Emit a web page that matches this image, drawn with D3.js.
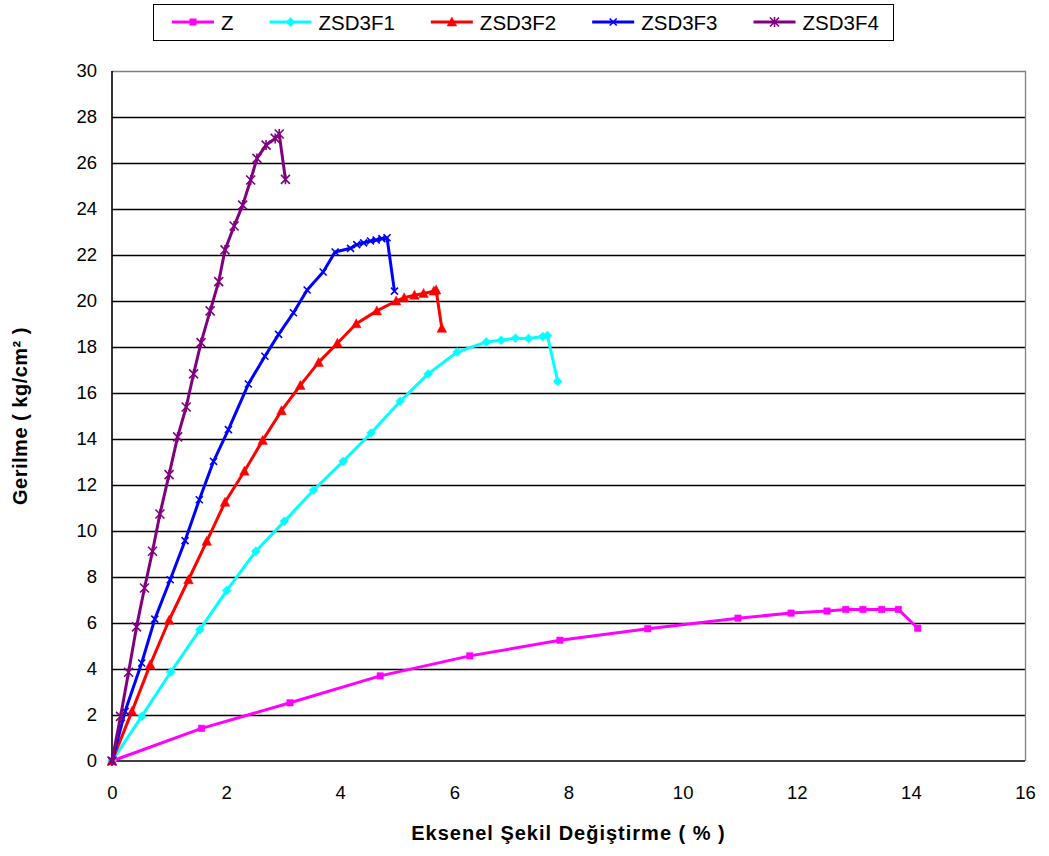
<!DOCTYPE html>
<html>
<head>
<meta charset="utf-8">
<script src="https://cdn.jsdelivr.net/npm/d3@7"></script>
<style>
  html, body { margin: 0; padding: 0; background: #fff; }
  svg { display: block; font-family: "Liberation Sans", Arial, sans-serif; }
</style>
</head>
<body>
<svg id="chart" width="1049" height="856"></svg>
<script>
// Stress–strain curves (strain %, stress kg/cm²)
const seriesNames = ["Z", "ZSD3F1", "ZSD3F2", "ZSD3F3", "ZSD3F4"];
const seriesColors = ["#FF00FF", "#00FFFF", "#FF0000", "#0000FF", "#800080"];
const seriesMarkers = ["square", "diamond", "triangle", "cross", "star"];

const zX = [0, 1.57, 3.12, 4.70, 6.27, 7.85, 9.39, 10.97, 11.90, 12.53, 12.86, 13.16, 13.49, 13.78, 14.12];
const zY = [0, 1.42, 2.53, 3.70, 4.57, 5.25, 5.75, 6.21, 6.43, 6.52, 6.59, 6.59, 6.59, 6.59, 5.77];

const f1X = [0, 0.52, 1.03, 1.54, 2.01, 2.52, 3.02, 3.53, 4.05, 4.54, 5.05, 5.54, 6.05, 6.56, 6.82, 7.07, 7.30, 7.55, 7.63, 7.81];
const f1Y = [0, 1.94, 3.87, 5.71, 7.41, 9.12, 10.42, 11.77, 13.03, 14.26, 15.64, 16.83, 17.78, 18.22, 18.29, 18.38, 18.37, 18.46, 18.50, 16.51];

const f2X = [0, 0.35, 0.67, 1.00, 1.34, 1.66, 1.98, 2.32, 2.64, 2.97, 3.30, 3.62, 3.95, 4.28, 4.64, 4.98, 5.12, 5.30, 5.46, 5.64, 5.68, 5.78];
const f2Y = [0, 2.16, 4.19, 6.12, 7.88, 9.55, 11.25, 12.60, 13.94, 15.23, 16.33, 17.33, 18.16, 19.01, 19.57, 20.00, 20.14, 20.25, 20.33, 20.43, 20.48, 18.81];

const f3X = [0, 0.23, 0.52, 0.75, 1.02, 1.28, 1.53, 1.78, 2.04, 2.39, 2.68, 2.92, 3.18, 3.42, 3.70, 3.91, 4.18, 4.29, 4.41, 4.53, 4.63, 4.73, 4.82, 4.95];
const f3Y = [0, 2.16, 4.26, 6.17, 7.88, 9.58, 11.36, 13.03, 14.41, 16.39, 17.60, 18.55, 19.49, 20.48, 21.26, 22.13, 22.29, 22.45, 22.53, 22.61, 22.65, 22.71, 22.75, 20.43];

const f4X = [0, 0.15, 0.29, 0.43, 0.57, 0.71, 0.84, 1.00, 1.15, 1.30, 1.43, 1.56, 1.72, 1.87, 1.98, 2.14, 2.29, 2.43, 2.54, 2.70, 2.86, 2.93, 3.04];
const f4Y = [0, 1.94, 3.86, 5.83, 7.52, 9.12, 10.74, 12.45, 14.09, 15.39, 16.83, 18.19, 19.57, 20.84, 22.22, 23.26, 24.17, 25.26, 26.20, 26.78, 27.07, 27.26, 25.29];

const xTicks = [0, 2, 4, 6, 8, 10, 12, 14, 16];
const yTicks = [0, 2, 4, 6, 8, 10, 12, 14, 16, 18, 20, 22, 24, 26, 28, 30];

const xTitle = "Eksenel Şekil Değiştirme ( % )";
const yTitle = "Gerilme ( kg/cm² )";

const allSeries = [[zX, zY], [f1X, f1Y], [f2X, f2Y], [f3X, f3Y], [f4X, f4Y]].map((p, i) => ({
  name: seriesNames[i],
  color: seriesColors[i],
  marker: seriesMarkers[i],
  points: p[0].map((x, j) => ({ x, y: p[1][j] }))
}));

const svg = d3.select("#chart");
const plot = { left: 112, right: 1025, top: 71, bottom: 761 };

const x = d3.scaleLinear().domain([0, 16]).range([plot.left, plot.right]);
const y = d3.scaleLinear().domain([0, 30]).range([plot.bottom, plot.top]);

// Horizontal gridlines
svg.append("g")
  .attr("transform", `translate(${plot.left},0)`)
  .call(d3.axisLeft(y).tickValues(yTicks.filter(v => v > 0 && v < 30))
    .tickSize(-(plot.right - plot.left)).tickFormat(""))
  .call(g => g.select(".domain").remove())
  .call(g => g.selectAll("line").attr("stroke", "#000").attr("stroke-width", 1.3));

// Plot frame (top and right edges)
svg.append("path")
  .attr("d", `M${plot.left},${y(30) + 0.5}H${plot.right + 0.5}V${plot.bottom}`)
  .attr("fill", "none").attr("stroke", "#808080").attr("stroke-width", 1.3);

// Axis lines
svg.append("line").attr("x1", plot.left).attr("x2", plot.left)
  .attr("y1", plot.top).attr("y2", plot.bottom + 0.5).attr("stroke", "#000").attr("stroke-width", 1.6);
svg.append("line").attr("x1", plot.left).attr("x2", plot.right)
  .attr("y1", plot.bottom).attr("y2", plot.bottom).attr("stroke", "#000").attr("stroke-width", 1.6);

// Tick labels
const yAxis = svg.append("g")
  .attr("transform", `translate(${plot.left},0)`)
  .call(d3.axisLeft(y).tickValues(yTicks).tickSize(0).tickPadding(15));
yAxis.select(".domain").remove();
yAxis.selectAll("text").attr("font-size", 18.5).attr("fill", "#000")
  .attr("font-family", "Liberation Sans, Arial, sans-serif");

const xAxis = svg.append("g")
  .attr("transform", `translate(0,${plot.bottom})`)
  .call(d3.axisBottom(x).tickValues(xTicks).tickSize(0).tickPadding(25));
xAxis.select(".domain").remove();
xAxis.selectAll("text").attr("font-size", 18.5).attr("fill", "#000")
  .attr("font-family", "Liberation Sans, Arial, sans-serif");

// Axis titles
svg.append("text")
  .attr("x", (plot.left + plot.right) / 2).attr("y", 840)
  .attr("text-anchor", "middle").attr("font-size", 20).attr("font-weight", "bold")
  .attr("letter-spacing", 1)
  .text(xTitle);

svg.append("text")
  .attr("transform", `translate(27,${(plot.top + plot.bottom) / 2}) rotate(-90)`)
  .attr("text-anchor", "middle").attr("font-size", 20).attr("font-weight", "bold")
  .attr("letter-spacing", 0.5)
  .text(yTitle);

// Marker shapes
function markerPath(kind) {
  switch (kind) {
    case "square": return d3.symbol(d3.symbolSquare, 42)();
    case "diamond": return "M0,-4.5L4.5,0L0,4.5L-4.5,0Z";
    case "triangle": return "M0,-5L4.8,4L-4.8,4Z";
    case "cross": return "M-3.5,-3.5L3.5,3.5M-3.5,3.5L3.5,-3.5";
    case "star": return "M-4.5,-4.5L4.5,4.5M-4.5,4.5L4.5,-4.5M0,-5L0,5";
  }
}

const line = d3.line().x(d => x(d.x)).y(d => y(d.y));

allSeries.forEach(s => {
  const g = svg.append("g").attr("class", "series");
  g.append("path").datum(s.points)
    .attr("d", line).attr("fill", "none")
    .attr("stroke", s.color).attr("stroke-width", 3).attr("stroke-linejoin", "round");
  const filled = ["square", "diamond", "triangle"].includes(s.marker);
  g.selectAll("path.mk").data(s.points).join("path")
    .attr("class", "mk")
    .attr("transform", d => `translate(${x(d.x)},${y(d.y)})`)
    .attr("d", markerPath(s.marker))
    .attr("fill", filled ? s.color : "none")
    .attr("stroke", s.color)
    .attr("stroke-width", filled ? 0.5 : 1.6);
});

// Legend
const legend = svg.append("g");
const legendItems = legend.selectAll("g.item").data(allSeries).join("g").attr("class", "item");
let cursor = 172;
const legendY = 22;
legendItems.each(function (s) {
  const g = d3.select(this);
  g.append("line").attr("x1", cursor).attr("x2", cursor + 42)
    .attr("y1", legendY).attr("y2", legendY)
    .attr("stroke", s.color).attr("stroke-width", 3);
  const filled = ["square", "diamond", "triangle"].includes(s.marker);
  g.append("path")
    .attr("transform", `translate(${cursor + 21},${legendY})`)
    .attr("d", markerPath(s.marker))
    .attr("fill", filled ? s.color : "none")
    .attr("stroke", s.color).attr("stroke-width", filled ? 0.5 : 1.6);
  const t = g.append("text").attr("x", cursor + 49).attr("y", legendY + 7.5)
    .attr("font-size", 20.5).text(s.name);
  cursor += 49 + t.node().getComputedTextLength() + 36;
});
legend.insert("rect", ":first-child")
  .attr("x", 153.5).attr("y", 4.5).attr("width", 740).attr("height", 36)
  .attr("fill", "#fff").attr("stroke", "#000").attr("stroke-width", 1);
</script>
</body>
</html>
